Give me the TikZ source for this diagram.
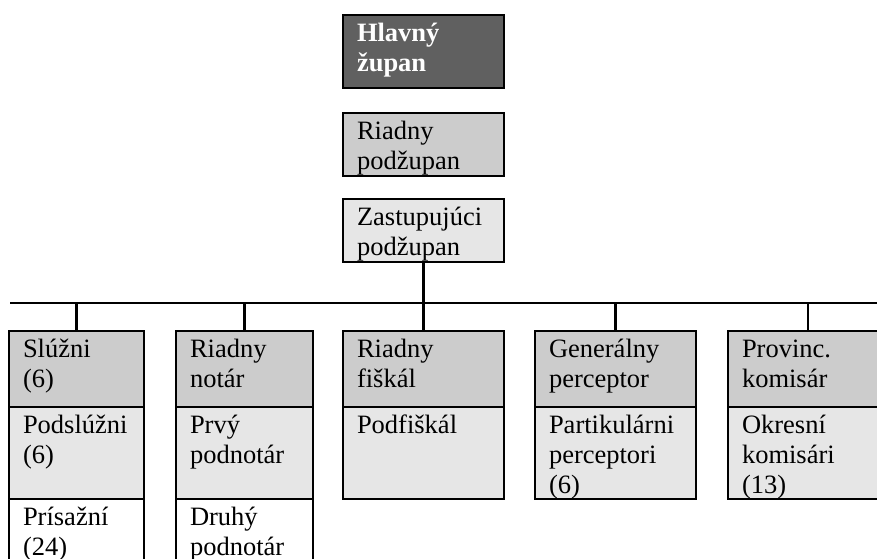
\documentclass[tikz,border=0pt]{standalone}
\usepackage{fontspec}
\setmainfont{Liberation Serif}
\usetikzlibrary{positioning}
\definecolor{darkbox}{RGB}{96,96,96}
\definecolor{headbox}{RGB}{204,204,204}
\definecolor{subbox}{RGB}{230,230,230}
\newcommand{\boxfont}{\fontsize{26.5}{30}\selectfont}
\hyphenpenalty=10000
\exhyphenpenalty=10000

\begin{document}
\begin{tikzpicture}[x=1pt, y=-1pt, line width=2.2pt,
	sect/.style={draw, outer sep=0pt, inner xsep=14pt, inner ysep=0pt,
		align=left, text height=26pt, font=\boxfont},
	top/.style={sect, text width=133pt, text depth=37pt},
	head/.style={sect, fill=headbox, text depth=50pt, anchor=north west},
	sub/.style={sect, fill=subbox, text depth=66pt},
	low/.style={sect, fill=white, text depth=54pt}]
	
	\useasboundingbox (0,0) rectangle (877,558);
	\clip (0,0) rectangle (877,558);
	
	% county head and deputies
	\node[top, fill=darkbox, text=white, font=\boxfont\bfseries, text depth=47pt,
		anchor=north west] (hlav) at (343,15) {Hlavný\\župan};
	\node[top, fill=headbox, below=25pt of hlav] (rpod) {Riadny\\podžupan};
	\node[top, fill=subbox, below=23pt of rpod] (zpod) {Zastupujúci\\podžupan};
	
	% offices
	\node[head, text width=107pt] (slu1) at (9,331) {Slúžni\\(6)};
	\node[sub, text width=107pt, below=0pt of slu1] (slu2) {Podslúžni\\(6)};
	\node[low, text width=107pt, below=0pt of slu2] (slu3) {Prísažní\\(24)};
	
	\node[head, text width=109pt] (not1) at (176,331) {Riadny\\notár};
	\node[sub, text width=109pt, below=0pt of not1] (not2) {Prvý\\podnotár};
	\node[low, text width=109pt, below=0pt of not2] (not3) {Druhý\\podnotár};
	
	\node[head, text width=133pt] (fis1) at (343,331) {Riadny\\fiškál};
	\node[sub, text width=133pt, below=0pt of fis1] (fis2) {Podfiškál};
	
	\node[head, text width=133pt] (per1) at (535,331) {Generálny\\perceptor};
	\node[sub, text width=133pt, below=0pt of per1] (per2) {Partikulárni\\perceptori\\(6)};
	
	\node[head, text width=132pt] (kom1) at (728,331) {Provinc.\\komisár};
	\node[sub, text width=132pt, below=0pt of kom1] (kom2) {Okresní\\komisári\\(13)};
	
	% connectors
	\coordinate (busl) at (10,303);
	\coordinate (busr) at (880,303);
	\draw (busl) -- (busr);
	\draw (zpod) -- (fis1);
	\foreach \n in {slu1,not1,per1,kom1}
		\draw (\n.north) -- (\n.north |- busl);
\end{tikzpicture}
\end{document}
